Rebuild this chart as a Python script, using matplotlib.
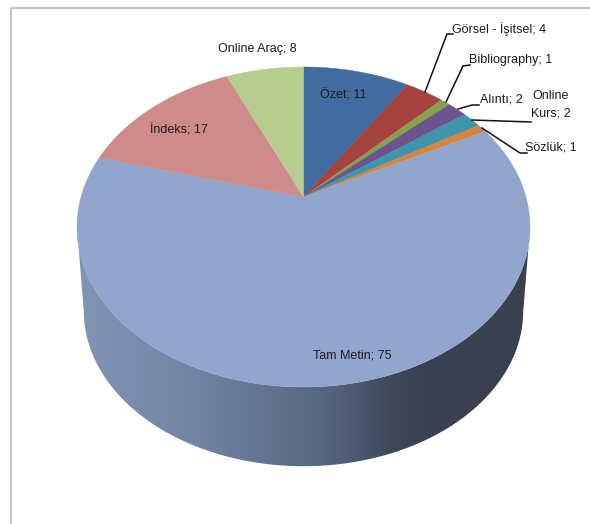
import numpy as np
import matplotlib.pyplot as plt
from matplotlib.colors import LinearSegmentedColormap
from matplotlib.patches import PathPatch
from matplotlib.path import Path

plt.rcParams['font.family'] = ['Liberation Sans', 'DejaVu Sans']

W, H = 590, 524

# clockwise from 12 o'clock
categories = ['Özet', 'Görsel - İşitsel', 'Bibliography', 'Alıntı', 'Online\nKurs',
              'Sözlük', 'Tam Metin', 'İndeks', 'Online Araç']
values = [11, 4, 1, 2, 2, 1, 75, 17, 8]
colors = ['#416c9f', '#a6433f', '#86a34c', '#6d5490', '#3d96ae', '#da8439',
          '#92a6cd', '#cd8c8a', '#b9cc90']

# label centres in pixels
label_pos = [(343, 95), (499, 29), (511, 60), (501, 99), (551, 105),
             (551, 147), (352, 355), (179, 130), (257, 49)]
leaders = [None,
           [(425, 92), (447, 34), (453, 34)],
           [(446, 102), (463, 66), (470, 65)],
           [(458, 109), (472, 105), (479, 105)],
           [(472, 120), (531, 122)],
           [(482, 128), (520, 153), (527, 153)],
           None, None, None]

# pie geometry, fitted by eye: excel-style 3d perspective
CX, CY = 303.5, 197
RX, RY = 222.5, 154.4
PERSP = 0.1875
TOP_MID = 227      # middle of the top ellipse
BOTTOM_MID = 311   # middle of the lower rim
RIM_SCALE = 0.97


def project(theta):
    # theta measured clockwise from the top of the pie
    s, c = np.cos(theta), np.sin(theta)
    d = 1 + PERSP * s
    return CX + RX * c / d, CY - RY * s / d


fig = plt.figure(figsize=(W / 100, H / 100), dpi=100)
ax = fig.add_axes([0, 0, 1, 1])

# chart frame
ax.plot([590, 11, 11], [8, 8, 524], color='#c4c4c4', lw=1.6, zorder=1)

# side wall, gradient clipped to the outline of the lower half
t = np.linspace(0, 2 * np.pi, 721)
tx, ty = project(t)
bx = CX + (tx - CX) * RIM_SCALE
by = BOTTOM_MID + (ty - TOP_MID) * RIM_SCALE
keep = ty >= TOP_MID
# walk the front arc left to right on the rim, then back along the top edge
order = np.argsort(t[keep])
outline = np.r_[np.c_[bx[keep][order], by[keep][order]],
                np.c_[tx[keep][order][::-1], ty[keep][order][::-1]]]
side_cmap = LinearSegmentedColormap.from_list(
    'side', [(0, '#8195b5'), (0.3, '#6f819f'), (0.55, '#56657f'), (0.7, '#3e4859'), (0.76, '#3a4253'), (1, '#394050')])
grad = np.linspace(0, 1, 256).reshape(1, -1)
im = ax.imshow(grad, cmap=side_cmap, extent=[77, 530, 480, 190], aspect='auto', zorder=2)
clip = PathPatch(Path(outline), transform=ax.transData, fc='none', ec='none')
ax.add_patch(clip)
im.set_clip_path(clip)

# top face
edges = np.r_[0, np.cumsum(values)] / sum(values) * 2 * np.pi
for i, col in enumerate(colors):
    a = np.linspace(edges[i], edges[i + 1], 200)
    x, y = project(a)
    ax.fill(np.r_[CX, x], np.r_[CY, y], color=col, lw=0.3, zorder=3)

# labels and leader lines
for name, val, pos, lead in zip(categories, values, label_pos, leaders):
    ax.text(pos[0], pos[1], f'{name}; {val}', ha='center', va='center', fontsize=9,
            color='#1c1c1c', linespacing=1.6, zorder=5)
    if lead:
        lx, ly = zip(*lead)
        ax.plot(lx, ly, color='#111111', lw=1.1, zorder=4)

ax.set_xlim(0, W)
ax.set_ylim(H, 0)
ax.axis('off')

fig.savefig('out.png', dpi=100)
